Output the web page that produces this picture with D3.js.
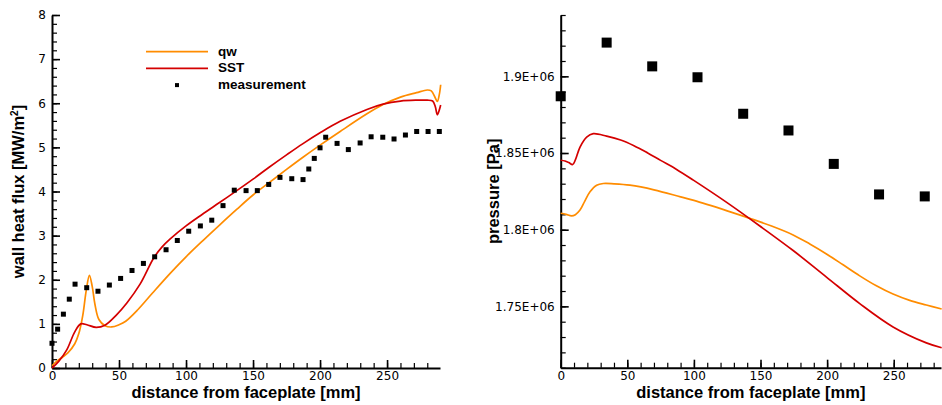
<!DOCTYPE html>
<html>
<head>
<meta charset="utf-8">
<script src="https://cdn.jsdelivr.net/npm/d3@7"></script>
<style>
  body { margin: 0; background: #fff; }
  svg { display: block; }
  .tick text { font-family: "DejaVu Sans", sans-serif; font-size: 12px; fill: #000; }
  .title { font-family: "Liberation Sans", Arial, sans-serif; font-weight: bold; font-size: 16.5px; fill: #000; }
  .legend { font-family: "Liberation Sans", Arial, sans-serif; font-weight: bold; font-size: 13.5px; fill: #000; }
</style>
</head>
<body>
<svg id="chart" width="942" height="405"></svg>
<script>
// ---- left panel: wall heat flux [MW/m2] ----
const qwFluxX = [0, 3, 8, 12, 17, 20, 23, 25.5, 27.9, 30, 32, 35, 39.5, 44.5, 50, 55, 64, 75, 88, 100, 113, 125, 138, 150, 162, 175, 187, 200, 215, 235, 247, 260, 272, 280, 283, 286, 287.5, 289, 290];
const qwFluxY = [0.05, 0.14, 0.25, 0.35, 0.55, 0.78, 1.2, 1.75, 2.1, 1.85, 1.45, 1.1, 0.96, 0.93, 0.98, 1.06, 1.32, 1.7, 2.14, 2.52, 2.9, 3.24, 3.6, 3.92, 4.2, 4.5, 4.77, 5.05, 5.36, 5.76, 5.97, 6.14, 6.24, 6.3, 6.28, 6.12, 6.04, 6.2, 6.42];

const sstFluxX = [0, 5, 11, 17, 21.5, 26, 33, 39.5, 48, 56, 65.7, 76, 82, 88, 100, 112, 125, 136, 150, 162, 175, 187, 200, 215, 235, 247, 260, 272, 280, 284, 286, 287.5, 289, 290];
const sstFluxY = [0, 0.15, 0.41, 0.82, 1.0, 0.98, 0.92, 0.97, 1.2, 1.48, 1.9, 2.5, 2.74, 2.92, 3.22, 3.48, 3.75, 3.98, 4.28, 4.55, 4.83, 5.08, 5.33, 5.59, 5.86, 5.98, 6.05, 6.07, 6.07, 6.05, 5.92, 5.74, 5.85, 5.96];

const measFluxX = [0, 4.2, 8.5, 12.9, 17.2, 25.9, 34.3, 42.8, 51.2, 59.7, 68.2, 76.6, 85.1, 93.5, 102, 110.7, 119.2, 127.6, 136, 144.8, 153.2, 161.7, 170.1, 178.9, 187.3, 191.6, 195.7, 200, 204.2, 212.7, 221.1, 229.9, 238.1, 246.8, 255.2, 263.7, 272.1, 280.6, 289];
const measFluxY = [0.56, 0.88, 1.22, 1.56, 1.9, 1.82, 1.74, 1.88, 2.03, 2.21, 2.37, 2.52, 2.68, 2.89, 3.1, 3.22, 3.35, 3.68, 4.03, 4.02, 4.02, 4.16, 4.32, 4.29, 4.27, 4.51, 4.75, 4.99, 5.23, 5.09, 4.95, 5.1, 5.24, 5.23, 5.19, 5.28, 5.36, 5.36, 5.36];

const fluxTicks = [0, 1, 2, 3, 4, 5, 6, 7, 8];
const distTicks = [0, 50, 100, 150, 200, 250];

// ---- right panel: pressure [Pa] ----
const qwPresX = [0, 4, 8.2, 11, 14.5, 18, 22, 27, 32, 40, 52, 70, 90, 100, 125, 142, 158.3, 174.5, 187, 199.5, 212, 224.5, 237, 249.5, 262, 274.5, 286];
const qwPresY = [1.8107e6, 1.8100e6, 1.8090e6, 1.8098e6, 1.8128e6, 1.8185e6, 1.8247e6, 1.8290e6, 1.8301e6, 1.8299e6, 1.8290e6, 1.8260e6, 1.8214e6, 1.8191e6, 1.8123e6, 1.8074e6, 1.8024e6, 1.7966e6, 1.7907e6, 1.7842e6, 1.7771e6, 1.7699e6, 1.7634e6, 1.7580e6, 1.7539e6, 1.7509e6, 1.7483e6];

const sstPresX = [0, 3.2, 6, 9, 11, 14.5, 19.5, 24.5, 34.5, 45, 55, 65, 75, 87, 99.6, 124.6, 149.5, 174.5, 199.5, 224.5, 249.5, 274.5, 286];
const sstPresY = [1.8453e6, 1.8448e6, 1.8438e6, 1.8425e6, 1.8455e6, 1.8539e6, 1.8604e6, 1.8626e6, 1.8610e6, 1.8585e6, 1.8548e6, 1.8502e6, 1.8452e6, 1.8393e6, 1.8323e6, 1.8178e6, 1.8024e6, 1.7864e6, 1.7691e6, 1.7518e6, 1.7366e6, 1.7262e6, 1.7230e6];

const measPresX = [0, 34.5, 68.7, 102.7, 137, 171, 205, 239, 273.3];
const measPresY = [1.887e6, 1.922e6, 1.9065e6, 1.8994e6, 1.8756e6, 1.8647e6, 1.8429e6, 1.823e6, 1.8217e6];

const presTicks = [1.75e6, 1.8e6, 1.85e6, 1.9e6];
const presTickLabels = ["1.75E+06", "1.8E+06", "1.85E+06", "1.9E+06"];

const legendNames = ["qw", "SST", "measurement"];

const orange = "#ff8c00";
const red = "#d40000";

const svg = d3.select("#chart");

function drawAxes(x, y, yMajor, yMinor, yFormat, xMinor) {
  const g = svg.append("g");
  const y0 = y.range()[0];
  const x0 = x.range()[0];

  // minor ticks
  g.append("g")
    .attr("transform", `translate(0,${y0})`)
    .call(d3.axisBottom(x).tickValues(xMinor).tickSize(-5).tickSizeOuter(0).tickFormat(""))
    .call(a => a.select(".domain").remove())
    .selectAll("line").attr("stroke-width", 1.2);
  g.append("g")
    .attr("transform", `translate(${x0},0)`)
    .call(d3.axisLeft(y).tickValues(yMinor).tickSize(-5).tickSizeOuter(0).tickFormat(""))
    .call(a => a.select(".domain").remove())
    .selectAll("line").attr("stroke-width", 1.2);

  // major ticks
  const xa = g.append("g")
    .attr("transform", `translate(0,${y0})`)
    .call(d3.axisBottom(x).tickValues(distTicks).tickSize(-8).tickSizeOuter(0).tickPadding(0));
  xa.selectAll(".tick text").attr("y", 12).attr("dy", 0);
  xa.select(".domain").attr("stroke-width", 2);
  xa.selectAll(".tick line").attr("stroke-width", 1.6);

  const ya = g.append("g")
    .attr("transform", `translate(${x0},0)`)
    .call(d3.axisLeft(y).tickValues(yMajor).tickSize(-8).tickSizeOuter(0).tickPadding(6).tickFormat(yFormat));
  ya.select(".domain").attr("stroke-width", 2);
  ya.selectAll(".tick line").attr("stroke-width", 1.6);
  ya.selectAll(".tick text").attr("x", -6);
}

function xTitle(cx) {
  svg.append("text").attr("class", "title")
    .attr("x", cx).attr("y", 398)
    .attr("text-anchor", "middle")
    .text("distance from faceplate [mm]");
}

// ================= left chart =================
const xL = d3.scaleLinear().domain([0, 289.5]).range([52, 440]);
const yL = d3.scaleLinear().domain([0, 8]).range([368, 15]);

drawAxes(xL, yL, fluxTicks, d3.range(0, 8.01, 0.2), d3.format("d"), d3.range(0, 290, 10));

const lineL = d3.line().x(d => xL(d[0])).y(d => yL(d[1])).curve(d3.curveCatmullRom.alpha(0.5));

svg.append("path").datum(d3.zip(qwFluxX, qwFluxY))
  .attr("d", lineL).attr("fill", "none").attr("stroke", orange).attr("stroke-width", 1.7);
svg.append("path").datum(d3.zip(sstFluxX, sstFluxY))
  .attr("d", lineL).attr("fill", "none").attr("stroke", red).attr("stroke-width", 1.7);

svg.append("g").selectAll("rect")
  .data(d3.zip(measFluxX, measFluxY))
  .join("rect")
  .attr("x", d => xL(d[0]) - 2.5).attr("y", d => yL(d[1]) - 2.5)
  .attr("width", 5).attr("height", 5).attr("fill", "#000");

const ytl = svg.append("text").attr("class", "title")
  .attr("transform", `translate(24,${(yL.range()[0] + yL.range()[1]) / 2}) rotate(-90)`)
  .attr("text-anchor", "middle");
ytl.append("tspan").text("wall heat flux [MW/m");
ytl.append("tspan").attr("dy", -6).attr("font-size", "10px").text("2");
ytl.append("tspan").attr("dy", 6).text("]");

xTitle((xL.range()[0] + xL.range()[1]) / 2);

// legend
const lg = svg.append("g");
const legendColors = [orange, red, null];
legendNames.forEach((name, i) => {
  const yy = 51.7 + i * 16.7;
  if (legendColors[i]) {
    lg.append("line").attr("x1", 146).attr("x2", 208).attr("y1", yy).attr("y2", yy)
      .attr("stroke", legendColors[i]).attr("stroke-width", 1.7);
  } else {
    lg.append("rect").attr("x", 175).attr("y", yy - 2).attr("width", 4).attr("height", 4).attr("fill", "#000");
  }
  lg.append("text").attr("class", "legend").attr("x", 218).attr("y", yy + 3.8).text(name);
});

// ================= right chart =================
const xR = d3.scaleLinear().domain([0, 285.5]).range([560.7, 941]);
const yR = d3.scaleLinear().domain([1.71e6, 1.94e6]).range([367.7, 15]);

drawAxes(xR, yR, presTicks, d3.range(1.71e6, 1.9401e6, 1e4),
  d => presTickLabels[presTicks.indexOf(d)], d3.range(0, 290, 10));

const lineR = d3.line().x(d => xR(d[0])).y(d => yR(d[1])).curve(d3.curveCatmullRom.alpha(0.5));

svg.append("path").datum(d3.zip(qwPresX, qwPresY))
  .attr("d", lineR).attr("fill", "none").attr("stroke", orange).attr("stroke-width", 1.7);
svg.append("path").datum(d3.zip(sstPresX, sstPresY))
  .attr("d", lineR).attr("fill", "none").attr("stroke", red).attr("stroke-width", 1.7);

svg.append("g").selectAll("rect")
  .data(d3.zip(measPresX, measPresY))
  .join("rect")
  .attr("x", d => xR(d[0]) - 5).attr("y", d => yR(d[1]) - 5)
  .attr("width", 10).attr("height", 10).attr("fill", "#000");

svg.append("text").attr("class", "title")
  .attr("transform", `translate(499,${(yR.range()[0] + yR.range()[1]) / 2}) rotate(-90)`)
  .attr("text-anchor", "middle")
  .text("pressure [Pa]");

xTitle((xR.range()[0] + xR.range()[1]) / 2);
</script>
</body>
</html>
